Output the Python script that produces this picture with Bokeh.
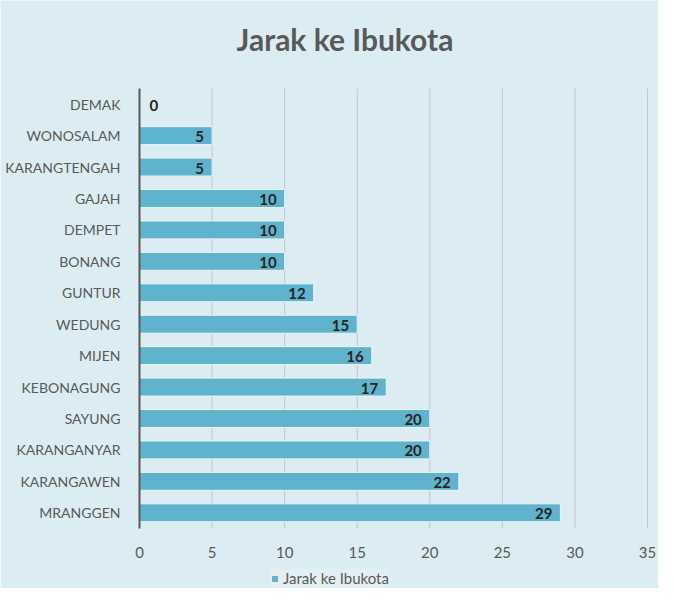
from bokeh.plotting import figure
from bokeh.models import ColumnDataSource, Legend, LegendItem, FixedTicker, Range1d, Label
from bokeh.embed import file_html
from bokeh.resources import INLINE
from bokeh.core.properties import value

categories = ["DEMAK", "WONOSALAM", "KARANGTENGAH", "GAJAH", "DEMPET", "BONANG",
              "GUNTUR", "WEDUNG", "MIJEN", "KEBONAGUNG", "SAYUNG", "KARANGANYAR",
              "KARANGAWEN", "MRANGGEN"]
jarak = [0, 5, 5, 10, 10, 10, 12, 15, 16, 17, 20, 20, 22, 29]
x_ticks = [0, 5, 10, 15, 20, 25, 30, 35]
title_text = "Jarak ke Ibukota"

FONT = "Lato"
BG = "#DBEDF3"
BAR = "#5FB3CC"

N = len(categories)
ypos = [N - 1 - i for i in range(N)]          # first category on top

# layout: the frame covers the whole canvas; the bar band sits inside it
W, H = 658, 588
BAND_L, BAND_R, BAND_T, BAND_B = 139, 647, 88, 528
sx = (BAND_R - BAND_L) / (x_ticks[-1] - x_ticks[0])
sy = (BAND_B - BAND_T) / N


def dx(px):
    return x_ticks[0] + (px - BAND_L) / sx


def dy(py):
    return (N - 0.5) - (py - BAND_T) / sy


p = figure(width=W, height=H, x_range=Range1d(dx(0), dx(W)),
           y_range=Range1d(dy(H), dy(0)), output_backend="svg",
           toolbar_location=None, min_border=0)
p.background_fill_color = BG
p.border_fill_color = BG
p.outline_line_color = None

# vertical grid lines across the bar band
p.segment(x0=x_ticks[1:], x1=x_ticks[1:], y0=-0.5, y1=N - 0.5,
          line_color="#BCC8CE", line_width=1)

src = ColumnDataSource(dict(y=ypos, v=jarak, cat=categories))
r = p.hbar(y="y", right="v", left=0, height=0.57, source=src,
           fill_color=BAR, line_color="#E8F4F8", line_width=1)

pos = [i for i, v in enumerate(jarak) if v > 0]
zero = [i for i, v in enumerate(jarak) if v == 0]
src_pos = ColumnDataSource(dict(y=[ypos[i] for i in pos], v=[jarak[i] for i in pos],
                                lbl=[str(jarak[i]) for i in pos]))
src_zero = ColumnDataSource(dict(y=[ypos[i] for i in zero], v=[jarak[i] for i in zero],
                                 lbl=[str(jarak[i]) for i in zero]))
p.text(x="v", y="y", text="lbl", source=src_pos, text_align="right",
       text_baseline="middle", x_offset=-8, y_offset=1, text_font=value(FONT),
       text_font_size="15px", text_font_style="bold", text_color="#262626")
p.text(x="v", y="y", text="lbl", source=src_zero, text_align="left",
       text_baseline="middle", x_offset=10, y_offset=1, text_font=value(FONT),
       text_font_size="15px", text_font_style="bold", text_color="#262626")

p.add_layout(Label(x=dx(344.5), y=dy(38), text=title_text, text_align="center",
                   text_baseline="alphabetic", text_font=FONT,
                   text_font_size="30px", text_font_style="bold",
                   text_color="#595959"))

p.xaxis.ticker = FixedTicker(ticks=x_ticks)
p.xaxis.fixed_location = -0.5
p.xaxis.bounds = (x_ticks[0], x_ticks[-1])
p.xaxis.axis_line_color = None
p.xaxis.major_tick_line_color = None
p.xaxis.minor_tick_line_color = None
p.xaxis.major_label_text_font = FONT
p.xaxis.major_label_text_font_size = "15px"
p.xaxis.major_label_text_color = "#595959"
p.xaxis.major_label_standoff = 12

p.yaxis.ticker = FixedTicker(ticks=ypos)
p.yaxis.major_label_overrides = {y: c for y, c in zip(ypos, categories)}
p.yaxis.fixed_location = 0
p.yaxis.bounds = (-0.5, N - 0.5)
p.yaxis.axis_line_color = "#595959"
p.yaxis.axis_line_width = 2
p.yaxis.major_tick_line_color = None
p.yaxis.minor_tick_line_color = None
p.yaxis.major_label_text_font = FONT
p.yaxis.major_label_text_font_size = "14px"
p.yaxis.major_label_text_color = "#595959"
p.yaxis.major_label_standoff = 13

p.xgrid.grid_line_color = None
p.ygrid.grid_line_color = None

legend = Legend(items=[LegendItem(label=title_text, renderers=[r])],
                location=(270, 1), orientation="horizontal",
                background_fill_color="#E4EFF4", background_fill_alpha=1,
                border_line_color=None, label_text_font=FONT,
                label_text_font_size="15px", label_text_color="#595959",
                glyph_width=9, glyph_height=9, padding=10, margin=0,
                label_standoff=4)
p.add_layout(legend)

open("out.html", "w").write(file_html(p, INLINE))
